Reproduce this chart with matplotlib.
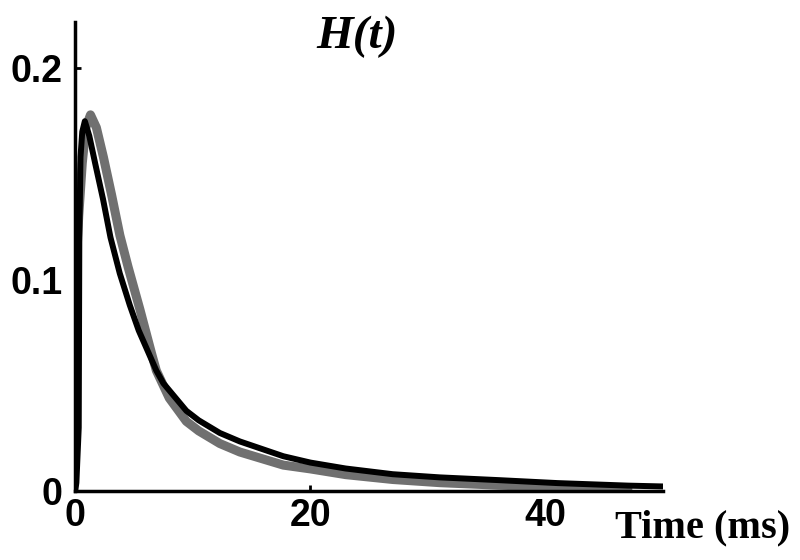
import matplotlib.pyplot as plt

# values
gray_t = [0, 0.3, 0.6, 0.9, 1.3, 1.8, 2.4, 3.1, 3.8, 4.5, 5.5, 6.5, 6.9, 8, 9.45,
          10.5, 12.3, 14, 17.7, 20, 23, 27, 31, 36, 41, 47]
gray_h = [0.096, 0.13, 0.155, 0.172, 0.178, 0.172, 0.158, 0.14, 0.121, 0.106,
          0.086, 0.065, 0.057, 0.044, 0.033, 0.0285, 0.0225, 0.0185, 0.0123, 0.0105,
          0.0078, 0.0055, 0.004, 0.0028, 0.002, 0.001]

black_t = [0, 0.1, 0.3, 0.35, 0.45, 0.6, 0.82, 1.2, 1.7, 2.37, 3.0, 3.79, 4.64, 5.4,
           6.19, 6.9, 7.5, 9.45, 10.5, 12.3, 14, 17.7, 20, 23, 27, 31, 36, 41, 47, 50]
black_h = [0, 0.004, 0.03, 0.12, 0.158, 0.17, 0.175, 0.168, 0.155, 0.138,
           0.12, 0.103, 0.088, 0.076, 0.066, 0.057, 0.051, 0.038, 0.0335, 0.0275,
           0.0235, 0.0165, 0.0135, 0.0107, 0.008, 0.0065, 0.0052, 0.0038, 0.0026, 0.0022]

xticks = [0, 20, 40]
yticks = [0, 0.1, 0.2]
yticklabels = ['0', '0.1', '0.2']

fig = plt.figure(figsize=(8, 5.6), dpi=100)
ax = fig.add_axes([0.094, 0.123, 0.735, 0.838])

ax.plot(gray_t, gray_h, color='#707070', lw=6.5, solid_capstyle='round', solid_joinstyle='round')
ax.plot(black_t, black_h, color='black', lw=4.3, solid_capstyle='butt', solid_joinstyle='round')

ax.set_xlim(0, 50)
ax.set_ylim(0, 0.222)

for s in ['top', 'right']:
    ax.spines[s].set_visible(False)
for s in ['left', 'bottom']:
    ax.spines[s].set_linewidth(2.5)

ax.set_xticks(xticks)
ax.set_xticklabels([str(t) for t in xticks])
ax.set_yticks(yticks)
ax.set_yticklabels(yticklabels)
ax.tick_params(direction='in', length=4, width=2, labelsize=27, pad=5)
ax.tick_params(axis='y', pad=9)
for lab in ax.get_xticklabels() + ax.get_yticklabels():
    lab.set_fontfamily('Liberation Sans')
    lab.set_fontweight('bold')

fig.text(0.446, 0.935, 'H(t)', fontsize=34, fontweight='bold', fontstyle='italic',
         family='Liberation Serif', ha='center', va='center')
fig.text(0.988, 0.058, 'Time (ms)', fontsize=29, fontweight='bold',
         family='Liberation Serif', ha='right', va='center')

fig.savefig('out.png', dpi=100)
